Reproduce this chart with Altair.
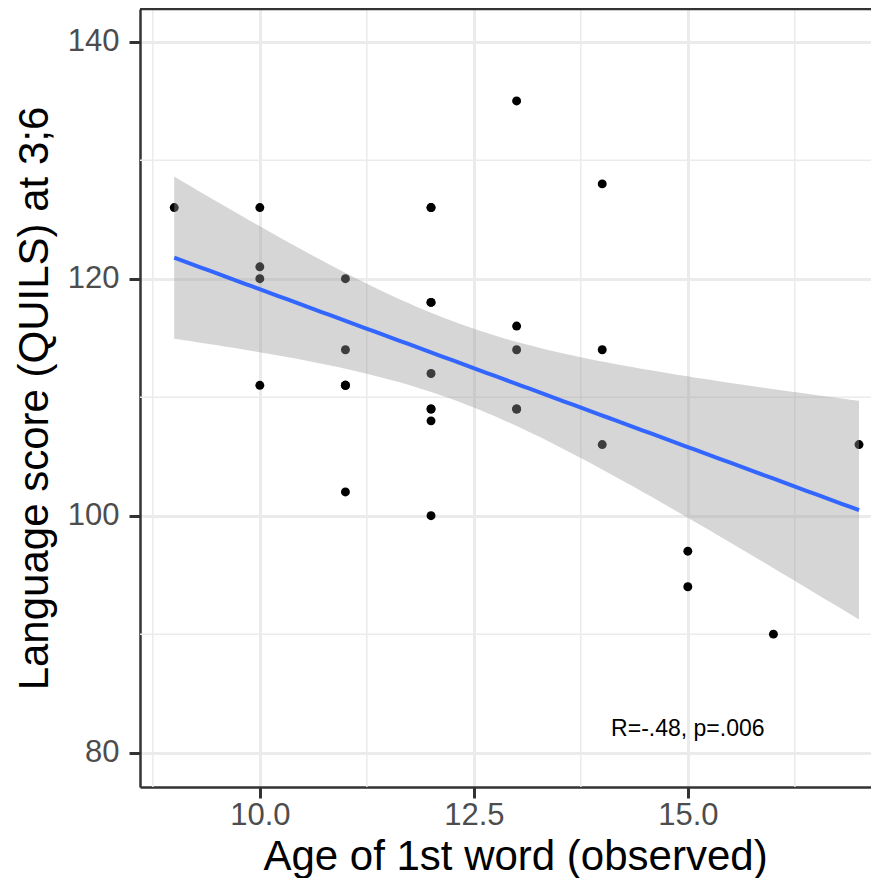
import numpy as np
import pandas as pd
import altair as alt

# Observed data (read from the reference). The last six pairs are overplotted
# duplicates of visible points (needed to reproduce the fitted band and R/p).
age = [9, 10, 10, 10, 10, 11, 11, 11, 11, 12, 12, 12, 12, 12, 12,
       13, 13, 13, 13, 14, 14, 14, 15, 15, 16, 17,
       11, 11, 12, 12, 12, 13]
quils = [126, 126, 121, 120, 111, 120, 114, 111, 102, 126, 118, 112, 109, 108, 100,
         135, 116, 114, 109, 128, 114, 106, 97, 94, 90, 106,
         111, 111, 126, 118, 109, 109]

x_major = [10.0, 12.5, 15.0]
x_minor = [8.75, 11.25, 13.75, 16.25]
y_major = [80, 100, 120, 140]
y_minor = [90, 110, 130]

annot_x = [15]
annot_y = [82]
annot_text = ["R=-.48, p=.006"]

# Linear fit with 95% confidence band (like geom_smooth(method="lm"))
t_table = {24: 2.0639, 25: 2.0595, 26: 2.0555, 27: 2.0518, 28: 2.0484, 29: 2.0452, 30: 2.0423}
xa = np.array(age, dtype=float)
ya = np.array(quils, dtype=float)
n = len(xa)
b1, b0 = np.polyfit(xa, ya, 1)
resid = ya - (b0 + b1 * xa)
s = np.sqrt(np.sum(resid ** 2) / (n - 2))
xm = xa.mean()
sxx = np.sum((xa - xm) ** 2)
t_crit = t_table[n - 2]
grid_x = np.linspace(xa.min(), xa.max(), 80)
fit = b0 + b1 * grid_x
se = s * np.sqrt(1.0 / n + (grid_x - xm) ** 2 / sxx)
band = pd.DataFrame({"x": grid_x, "fit": fit, "lo": fit - t_crit * se, "hi": fit + t_crit * se})

pts = pd.DataFrame({"x": age, "y": quils})
ann = pd.DataFrame({"x": annot_x, "y": annot_y, "label": annot_text})

W, H = 731, 778
xs = alt.Scale(domain=[8.6, 17.14], nice=False, zero=False)
ys = alt.Scale(domain=[77.1, 142.76], nice=False, zero=False)

common_axis = dict(
    grid=True, gridColor="#EBEBEB", gridWidth=3,
    tickSize=11, tickWidth=3, tickColor="#333333",
    domainColor="#333333", domainWidth=2.5,
    labelFontSize=31, labelColor="#4D4D4D", labelFont="Liberation Sans",
    titleFontSize=42, titleFontWeight="normal", titleColor="black",
    titleFont="Liberation Sans",
)
xaxis = alt.Axis(values=x_major, format=".1f", title="Age of 1st word (observed)",
                 labelPadding=2, titleX=375, titleY=82, titleBaseline="alphabetic",
                 titleAlign="center", **common_axis)
yaxis = alt.Axis(values=y_major, format="d", title="Language score (QUILS) at 3;6",
                 labelPadding=10, titleX=-93, titleY=H / 2, titleAngle=270,
                 titleBaseline="alphabetic", titleAlign="center", **common_axis)


def X(f):
    return alt.X(f, type="quantitative", scale=xs, axis=xaxis)


def Y(f):
    return alt.Y(f, type="quantitative", scale=ys, axis=yaxis)


xminor_df = pd.DataFrame({"x": x_minor})
yminor_df = pd.DataFrame({"y": y_minor})

vminor = alt.Chart(xminor_df).mark_rule(color="#EBEBEB", strokeWidth=1.5).encode(x=X("x"))
hminor = alt.Chart(yminor_df).mark_rule(color="#EBEBEB", strokeWidth=1.5).encode(y=Y("y"))

points = alt.Chart(pts).mark_circle(color="black", opacity=1, size=80).encode(x=X("x"), y=Y("y"))

ribbon = alt.Chart(band).mark_area(color="#999999", opacity=0.4).encode(
    x=X("x"), y=Y("lo"), y2="hi")

line = alt.Chart(band).mark_line(color="#3366FF", strokeWidth=4).encode(x=X("x"), y=Y("fit"))

text = alt.Chart(ann).mark_text(font="Liberation Sans", fontSize=23, color="black",
                                align="center", baseline="middle").encode(
    x=X("x"), y=Y("y"), text="label")

top_border = alt.Chart(pd.DataFrame({"a": [0]})).mark_rule(
    color="#333333", strokeWidth=2.5).encode(
    y=alt.value(0), x=alt.value(0), x2=alt.value(W))

chart = alt.layer(vminor, hminor, points, ribbon, line, text, top_border).properties(
    width=W, height=H, autosize="none",
    padding={"left": 132, "top": 1, "right": 0, "bottom": 91},
).configure_view(stroke=None).configure(font="Liberation Sans")

chart.save("out.html", embed_options={"renderer": "svg", "actions": False})
